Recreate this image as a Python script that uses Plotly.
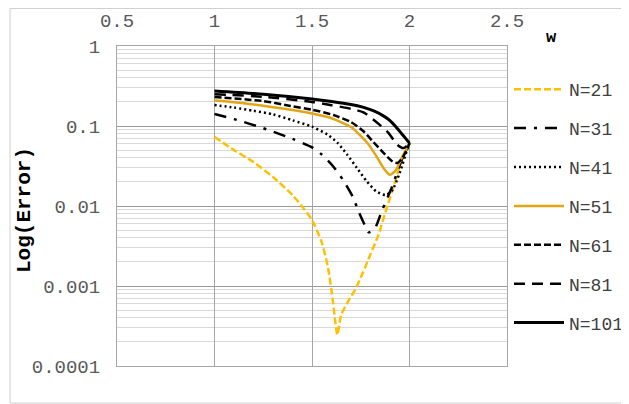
import plotly.graph_objects as go

# ---- data ----
x21 = [1.0, 1.1, 1.2, 1.3, 1.4, 1.45, 1.5, 1.55, 1.58, 1.6, 1.62, 1.63, 1.65, 1.68, 1.72, 1.76, 1.8, 1.84, 1.88, 1.92, 1.96, 2.0]
y21 = [0.073, 0.05, 0.0355, 0.023, 0.0137, 0.0098, 0.0067, 0.0035, 0.0018, 0.00089, 0.00035, 0.000245, 0.00044, 0.00061, 0.00089, 0.00145, 0.0025, 0.0043, 0.0089, 0.018, 0.0376, 0.061]

x31 = [1.0, 1.1, 1.25, 1.4, 1.5, 1.55, 1.61, 1.66, 1.71, 1.74, 1.77, 1.79, 1.82, 1.86, 1.91, 1.96, 2.0]
y31 = [0.141, 0.122, 0.094, 0.069, 0.054, 0.044, 0.031, 0.021, 0.0129, 0.0084, 0.0058, 0.0047, 0.0051, 0.0089, 0.0173, 0.0376, 0.061]

x41 = [1.0, 1.1, 1.2, 1.3, 1.4, 1.5, 1.58, 1.63, 1.68, 1.73, 1.78, 1.83, 1.877, 1.91, 1.95, 1.985, 2.0]
y41 = [0.183, 0.17, 0.155, 0.14, 0.118, 0.098, 0.078, 0.062, 0.044, 0.030, 0.0205, 0.0152, 0.0137, 0.0155, 0.026, 0.048, 0.061]

x51 = [1.0, 1.1, 1.2, 1.3, 1.4, 1.5, 1.6, 1.7, 1.78, 1.83, 1.87, 1.9, 1.93, 1.96, 2.0]
y51 = [0.208, 0.198, 0.186, 0.172, 0.158, 0.143, 0.125, 0.097, 0.063, 0.042, 0.029, 0.0245, 0.028, 0.040, 0.061]

x61 = [1.0, 1.25, 1.39, 1.5, 1.61, 1.7, 1.764, 1.815, 1.867, 1.913, 1.938, 1.964, 1.99, 2.0]
y61 = [0.23, 0.205, 0.178, 0.16, 0.137, 0.112, 0.086, 0.063, 0.046, 0.036, 0.0345, 0.040, 0.053, 0.061]

x81 = [1.0, 1.25, 1.5, 1.6, 1.7, 1.764, 1.836, 1.892, 1.938, 1.97, 2.0]
y81 = [0.25, 0.232, 0.2, 0.182, 0.164, 0.148, 0.109, 0.082, 0.058, 0.053, 0.061]

x101 = [1.0, 1.25, 1.5, 1.6, 1.7, 1.76, 1.82, 1.87, 1.9, 1.93, 1.96, 1.98, 2.0]
y101 = [0.274, 0.25, 0.218, 0.203, 0.186, 0.172, 0.153, 0.132, 0.117, 0.098, 0.08, 0.07, 0.061]

names = ["N=21", "N=31", "N=41", "N=51", "N=61", "N=81", "N=101"]
xticks = [0.5, 1, 1.5, 2, 2.5]
xticktext = ["0.5", "1", "1.5", "2", "2.5"]
yticks = [0.0001, 0.001, 0.01, 0.1, 1]
yticktext = ["0.0001", "0.001", "0.01", "0.1", "1"]

FONT = "Liberation Mono, Courier New, monospace"

series = [
    (x21, y21, "#FFC000", "7px,3px", 2.5),
    (x31, y31, "black", "12px,8px,3px,8px", 2.5),
    (x41, y41, "black", "2px,3px", 2.5),
    (x51, y51, "#E2A514", "solid", 2.5),
    (x61, y61, "black", "7px,3px", 2.5),
    (x81, y81, "black", "11px,7px", 2.5),
    (x101, y101, "black", "solid", 3),
]

fig = go.Figure()
for (xs, ys, col, dash, w), nm in zip(series, names):
    fig.add_trace(go.Scatter(
        x=xs, y=ys, mode="lines", name=nm, legendgroup=nm,
        line=dict(color=col, dash=dash, width=w, shape="spline", smoothing=0.6),
    ))

# page is offset by the default 8px body margin -> work in page pixels
OFF = 8
W, H = 629 - OFF, 404 - OFF
L, R, T, B = 117 - OFF, 507 - OFF, 46 - OFF, 366 - OFF

def px(xp):  # page x -> paper
    return (xp - OFF - L) / (R - L)
def py(yp):  # page y -> paper
    return (B - (yp - OFF)) / (B - T)

fig.update_layout(
    width=W, height=H,
    margin=dict(l=L, r=W - R, t=T, b=H - B, autoexpand=False),
    paper_bgcolor="white", plot_bgcolor="white",
    font=dict(family=FONT, size=19, color="#595959"),
    showlegend=True,
    legend=dict(
        x=px(509), y=py(71), xanchor="left", yanchor="top",
        font=dict(family=FONT, size=18, color="#404040"),
        tracegroupgap=12.5, traceorder="grouped", itemwidth=50,
        bgcolor="rgba(0,0,0,0)",
    ),
    xaxis=dict(
        range=[0.5, 2.5], side="top", tickvals=xticks, ticktext=xticktext,
        showgrid=True, gridcolor="#a6a6a6", gridwidth=1,
        showline=True, linecolor="#a6a6a6", mirror=True, linewidth=1,
        zeroline=False, ticks="", ticklabelstandoff=10, automargin=False,
    ),
    yaxis=dict(
        type="log", range=[-4, 0], tickvals=yticks, ticktext=yticktext,
        showgrid=True, gridcolor="#9a9a9a", gridwidth=1,
        showline=True, linecolor="#a6a6a6", mirror=True, linewidth=1,
        zeroline=False, ticks="", ticklabelstandoff=12, automargin=False,
        minor=dict(dtick="D1", showgrid=True, gridcolor="#d9d9d9", gridwidth=1, ticks=""),
    ),
    shapes=[dict(type="rect", xref="paper", yref="paper",
                 x0=px(10), x1=px(626), y0=py(403), y1=py(8.5),
                 line=dict(color="#d0d0d0", width=1), layer="below")],
    annotations=[
        dict(text="<b>Log(Error)</b>", xref="paper", yref="paper",
             x=px(24), y=py(210), xanchor="center", yanchor="middle",
             textangle=-90, showarrow=False,
             font=dict(family=FONT, size=21, color="black")),
        dict(text="<b>w</b>", xref="paper", yref="paper",
             x=px(551), y=py(37), xanchor="center", yanchor="middle",
             showarrow=False,
             font=dict(family=FONT, size=17, color="black")),
    ],
)

fig.write_html("out.html")
